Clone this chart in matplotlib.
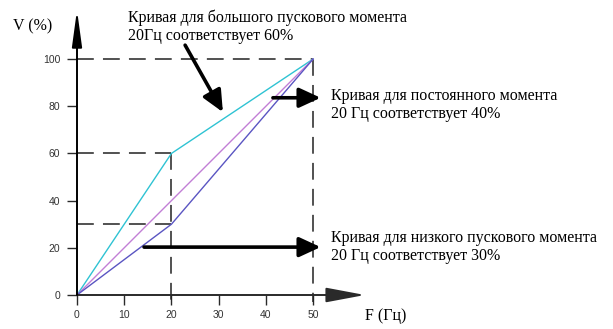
import matplotlib
matplotlib.use("Agg")
import matplotlib.pyplot as plt

# Data
freq_high = [0, 20, 50]
volt_high = [0, 60, 100]
freq_const = [0, 50]
volt_const = [0, 100]
freq_low = [0, 20, 50]
volt_low = [0, 30, 100]
xticks = [0, 10, 20, 30, 40, 50]
yticks = [0, 20, 40, 60, 80, 100]

W, H = 613, 329
fig = plt.figure(figsize=(W / 100, H / 100), dpi=100)
# axes: x=0 at px 77, x=61 at px 365; y=0 at px 295, y=120.8 at px 10
ax = fig.add_axes([77 / W, (H - 295) / H, 288 / W, 285 / H])
ax.set_xlim(0, 61)
ax.set_ylim(0, 120.8)

for s in ["top", "right", "left", "bottom"]:
    ax.spines[s].set_visible(False)

axcol = "#2a2a2a"
# axes with arrows
ax.annotate("", xy=(61, 0), xytext=(0, 0), xycoords="data",
            arrowprops=dict(arrowstyle="-|>,head_length=2.4,head_width=0.45",
                            color=axcol, lw=1.4, shrinkA=0, shrinkB=0),
            annotation_clip=False)
ax.annotate("", xy=(0, 120.8), xytext=(0, 0), xycoords="data",
            arrowprops=dict(arrowstyle="-|>,head_length=2.2,head_width=0.3",
                            color="black", lw=1.4, shrinkA=0, shrinkB=0),
            annotation_clip=False)

ax.set_xticks(xticks)
ax.set_yticks(yticks)
ax.tick_params(axis="both", direction="out", length=7, width=1, color=axcol,
               labelsize=7.5, labelcolor="#333333")
ax.tick_params(axis="x", pad=4)
ax.tick_params(axis="y", pad=5)
for lab in ax.get_xticklabels() + ax.get_yticklabels():
    lab.set_family("Liberation Sans")

# dashed guide lines
dash = dict(color="#222222", lw=1.1, dashes=(11, 6))
ax.plot([0, 50], [100, 100], **dash)
ax.plot([50, 50], [100, -3], **dash, clip_on=False)
ax.plot([0, 20], [60, 60], **dash)
ax.plot([20, 20], [60, -3], **dash, clip_on=False)
ax.plot([0, 20], [30, 30], **dash)

# curves
ax.plot(freq_high, volt_high, color="#2fc3d3", lw=1.0)
ax.plot(freq_const, volt_const, color="#c27fd6", lw=1.0)
ax.plot(freq_low, volt_low, color="#5a55c2", lw=1.0)

# pointer arrows
arr = dict(arrowstyle="-|>,head_length=1.3,head_width=0.6", color="black",
           lw=2.6, shrinkA=0, shrinkB=0)
ax.annotate("", xy=(30.9, 77.5), xytext=(22.9, 105.9), arrowprops=arr,
            annotation_clip=False)
ax.annotate("", xy=(51.6, 83.6), xytext=(41.5, 83.6), arrowprops=arr,
            annotation_clip=False)
ax.annotate("", xy=(51.6, 20.3), xytext=(14.2, 20.3), arrowprops=arr,
            annotation_clip=False)

serif = "Liberation Serif"
fs = 11.5
def ftext(px, py, s, **kw):
    fig.text(px / W, 1 - py / H, s, family=serif, fontsize=fs, va="center",
             ha="left", **kw)

ftext(128, 18, "Кривая для большого пускового момента")
ftext(128, 36, "20Гц соответствует 60%")
ftext(331, 96, "Кривая для постоянного момента")
ftext(331, 114, "20 Гц соответствует 40%")
ftext(331, 238, "Кривая для низкого пускового момента")
ftext(331, 256, "20 Гц соответствует 30%")
ftext(13, 26, "V (%)")
ftext(365, 316, "F (Гц)")

fig.savefig("out.png", dpi=100)
